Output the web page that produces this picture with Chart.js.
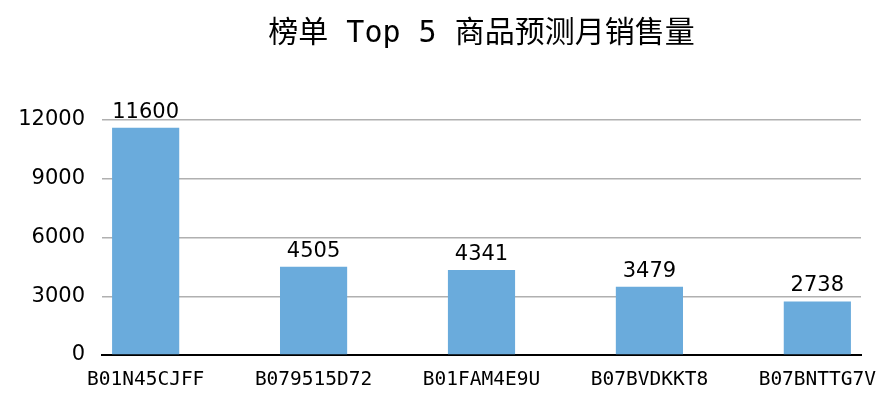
<!DOCTYPE html>
<html>
<head>
  <meta charset="utf-8" />
  <title>榜单 Top 5 商品预测月销售量</title>
  <script src="https://cdn.jsdelivr.net/npm/chart.js"></script>
  <style>
    html, body { margin: 0; padding: 0; background: #fff; }
    #wrap { width: 895px; height: 406px; }
  </style>
</head>
<body>
  <div id="wrap"><canvas id="salesChart" width="895" height="406"></canvas></div>

  <script>
    // chart data
    const chartTitle = '榜单 Top 5 商品预测月销售量';
    const products = ['B01N45CJFF', 'B079515D72', 'B01FAM4E9U', 'B07BVDKKT8', 'B07BNTTG7V'];
    const sales = [11600, 4505, 4341, 3479, 2738];
    const yTicks = [0, 3000, 6000, 9000, 12000];

    // title centred over the plot area, values above each bar
    const extras = {
      id: 'extras',
      afterDraw(chart) {
        const ctx = chart.ctx;
        const area = chart.chartArea;
        ctx.save();
        ctx.fillStyle = '#000';
        ctx.textAlign = 'center';
        ctx.textBaseline = 'middle';
        ctx.font = '30px "DejaVu Sans Mono", "Noto Sans CJK SC"';
        ctx.fillText(chartTitle, (area.left + area.right) / 2, 34);

        ctx.font = '21px "DejaVu Sans"';
        ctx.textBaseline = 'alphabetic';
        const meta = chart.getDatasetMeta(0);
        meta.data.forEach((bar, i) => {
          ctx.fillText(String(sales[i]), bar.x, bar.y - 10);
        });
        ctx.restore();
      }
    };

    const ctx = document.getElementById('salesChart').getContext('2d');
    new Chart(ctx, {
      type: 'bar',
      data: {
        datasets: [{
          data: sales.map((v, i) => ({ x: i, y: v })),
          backgroundColor: '#6aabdc',
          borderWidth: 0,
          barPercentage: 0.4,
          categoryPercentage: 1.0
        }]
      },
      options: {
        responsive: false,
        animation: false,
        layout: { padding: { left: 0, right: 34, top: 120, bottom: 0 } },
        plugins: {
          legend: { display: false },
          tooltip: { enabled: false },
          title: { display: false }
        },
        scales: {
          x: {
            type: 'linear',
            offset: false,
            min: -0.26,
            max: 4.26,
            afterBuildTicks(scale) {
              scale.ticks = products.map((p, i) => ({ value: i }));
            },
            afterFit(scale) { scale.height = 51; },
            grid: { display: false, drawTicks: false, offset: false },
            border: { display: true, color: '#000', width: 2 },
            ticks: {
              color: '#000',
              padding: 13,
              autoSkip: false,
              maxRotation: 0,
              font: { family: '"DejaVu Sans Mono"', size: 19.5 },
              callback: (v) => products[v] || ''
            }
          },
          y: {
            min: 0,
            max: 12000,
            afterBuildTicks(scale) {
              scale.ticks = yTicks.map(v => ({ value: v }));
            },
            afterFit(scale) { scale.width = 102; },
            grid: { color: '#b0b0b0', lineWidth: 1.5, drawTicks: false },
            border: { display: false },
            ticks: {
              color: '#000',
              padding: 17,
              font: { family: '"DejaVu Sans"', size: 21 },
              callback: (v) => String(v)
            }
          }
        }
      },
      plugins: [extras]
    });
  </script>
</body>
</html>
